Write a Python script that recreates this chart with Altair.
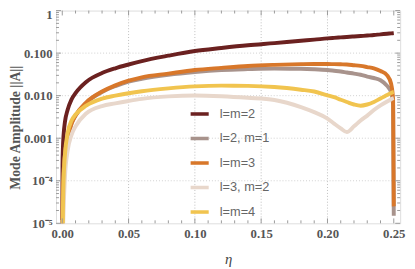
import math
import altair as alt
import pandas as pd

# ---------------- data ----------------
eta = [0.00001, 0.0002, 0.0005, 0.001, 0.002, 0.004, 0.007, 0.01, 0.018, 0.03,
       0.04, 0.05, 0.06, 0.08, 0.10, 0.12, 0.14, 0.16, 0.18, 0.19,
       0.20, 0.205, 0.21, 0.2146, 0.22, 0.225, 0.23, 0.235, 0.24, 0.245,
       0.248, 0.2495, 0.25]

a22 = [1.2e-5, 2.4e-4, 6e-4, 0.0012, 0.0024, 0.0046, 0.0082, 0.0115, 0.021, 0.034,
       0.044, 0.054, 0.065, 0.087, 0.112, 0.132, 0.153, 0.172, 0.195, 0.207,
       0.222, 0.228, 0.234, 0.240, 0.246, 0.252, 0.259, 0.266, 0.276, 0.285,
       0.291, 0.294, 0.295]

a21 = [1e-6, 2.5e-5, 5e-5, 1.5e-4, 4e-4, 0.001, 0.0022, 0.0034, 0.0068, 0.0122,
       0.0168, 0.0215, 0.025, 0.031, 0.036, 0.040, 0.042, 0.0432, 0.0428, 0.0418,
       0.040, 0.0385, 0.037, 0.035, 0.033, 0.031, 0.028, 0.026, 0.023, 0.017,
       0.012, 0.006, 1.5e-5]

a33 = [1e-6, 2.5e-5, 5e-5, 1.5e-4, 4e-4, 0.001, 0.0022, 0.0034, 0.0069, 0.0125,
       0.0175, 0.0225, 0.027, 0.033, 0.040, 0.045, 0.050, 0.053, 0.055, 0.0555,
       0.0555, 0.055, 0.0545, 0.054, 0.052, 0.050, 0.047, 0.044, 0.038, 0.030,
       0.019, 0.008, 2.5e-5]

a32 = [1e-6, 1e-6, 5e-6, 2e-5, 1.2e-4, 5e-4, 0.0012, 0.0019, 0.0038, 0.0057,
       0.0066, 0.0075, 0.0084, 0.0096, 0.0101, 0.0097, 0.0089, 0.0079, 0.0054, 0.0041,
       0.0029, 0.0022, 0.0017, 0.0014, 0.0019, 0.0026, 0.0034, 0.0046, 0.0059, 0.0073,
       0.0082, 0.0087, 0.0088]

a44 = [1e-6, 1e-6, 2e-5, 1e-4, 4e-4, 0.0013, 0.0026, 0.0036, 0.0058, 0.0085,
       0.0100, 0.0114, 0.0127, 0.0148, 0.0165, 0.0172, 0.0170, 0.0160, 0.0138, 0.0125,
       0.0102, 0.0092, 0.0080, 0.0071, 0.0062, 0.0058, 0.0062, 0.0071, 0.0086, 0.0103,
       0.0115, 0.0121, 0.0122]

modes = ["l=m=2", "l=2, m=1", "l=m=3", "l=3, m=2", "l=m=4"]
colors = ["#6b2120", "#a8938c", "#d8772a", "#e8d7cb", "#f1c44f"]

x_ticks = [0.0, 0.05, 0.10, 0.15, 0.20, 0.25]
x_grid = [0.05, 0.10, 0.15, 0.20]
y_ticks = [1e-5, 1e-4, 1e-3, 1e-2, 1e-1, 1.0]
y_labels = ["10⁻⁵", "10⁻⁴", "0.001", "0.010", "0.100", "1"]
y_grid = [1e-4, 1e-3, 1e-2, 1e-1]

# ---------------- tables ----------------
rows = []
for m, vals in zip(modes, [a22, a21, a33, a32, a44]):
    for i, (e, v) in enumerate(zip(eta, vals)):
        rows.append({"eta": e, "amp": v, "mode": m, "idx": i})
df = pd.DataFrame(rows)

x_minor = [round(i * 0.01, 2) for i in range(0, 26) if round(i * 0.01, 2) not in x_ticks]
y_minor = [k * 10.0 ** p for p in range(-5, 0) for k in range(2, 10)]

W, H = 351, 217
MAJ, MIN = 5, 3
FRAME = "#9a9a9a"
LABEL = "#555555"

xs = alt.Scale(domain=[-0.0047, 0.2548], nice=False, zero=False)
ys = alt.Scale(type="log", domain=[1e-5, 1], nice=False)

label_list = "[" + ",".join("'" + s + "'" for s in y_labels) + "]"
y_label_expr = label_list + "[round(log(datum.value)/LN10)+5]"

lines = alt.Chart(df).mark_line(strokeWidth=4, clip=True, interpolate="monotone").encode(
    x=alt.X("eta:Q", scale=xs,
            axis=alt.Axis(values=x_ticks, format=".2f", title="η", ticks=False, grid=False,
                          domain=False, labelFont="Liberation Serif", labelFontWeight="bold",
                          labelFontSize=13, labelColor=LABEL, labelPadding=4,
                          titleFont="Liberation Serif", titleFontStyle="italic",
                          titleFontWeight="normal", titleFontSize=15, titleColor="#444444",
                          titlePadding=12)),
    y=alt.Y("amp:Q", scale=ys,
            axis=alt.Axis(values=y_ticks, labelExpr=y_label_expr, title="Mode Amplitude ||A||",
                          ticks=False, grid=False, domain=False, labelFont="Liberation Serif",
                          labelFontWeight="bold", labelFontSize=13, labelColor=LABEL,
                          labelPadding=4,
                          labelOffset=alt.condition("datum.value >= 1", alt.value(4), alt.value(0)),
                          titleFont="Liberation Serif", titleFontWeight="bold",
                          titleFontSize=14, titleColor=LABEL, titleX=-41, titleY=119,
                          titleBaseline="middle")),
    color=alt.Color("mode:N", scale=alt.Scale(domain=modes, range=colors),
                    legend=alt.Legend(title=None, orient="none", legendX=135, legendY=94,
                                      symbolType="stroke", symbolSize=340, symbolStrokeWidth=3.6,
                                      labelFont="Liberation Sans", labelFontSize=13,
                                      labelColor="#666666", rowPadding=6, labelOffset=9,
                                      padding=0)),
    order="idx:Q",
)

gx = alt.Chart(pd.DataFrame({"g": x_grid})).mark_rule(color="#bdbdbd", strokeDash=[1, 2], strokeWidth=1).encode(
    x=alt.X("g:Q", scale=xs), y=alt.value(0), y2=alt.value(H))
gy = alt.Chart(pd.DataFrame({"g": y_grid})).mark_rule(color="#d0d0d0", strokeDash=[1, 2], strokeWidth=1).encode(
    y=alt.Y("g:Q", scale=ys), x=alt.value(0), x2=alt.value(W))


def xtick(vals, y0, y1):
    return alt.Chart(pd.DataFrame({"t": vals})).mark_rule(color=FRAME, strokeWidth=1).encode(
        x=alt.X("t:Q", scale=xs), y=alt.value(y0), y2=alt.value(y1))


def ytick(vals, x0, x1):
    return alt.Chart(pd.DataFrame({"t": vals})).mark_rule(color=FRAME, strokeWidth=1).encode(
        y=alt.Y("t:Q", scale=ys), x=alt.value(x0), x2=alt.value(x1))


ticks = [
    xtick(x_ticks, H, H - MAJ), xtick(x_minor, H, H - MIN),
    xtick(x_ticks, 0, MAJ), xtick(x_minor, 0, MIN),
    ytick(y_ticks, 0, MAJ), ytick(y_minor, 0, MIN),
    ytick(y_ticks, W, W - MAJ), ytick(y_minor, W, W - MIN),
]

chart = alt.layer(gx, gy, lines, *ticks).properties(
    width=W, height=H,
    padding={"left": 49, "top": 0, "right": 7, "bottom": 44},
    autosize=alt.AutoSizeParams(type="none"),
).configure_view(stroke=FRAME, strokeWidth=1).configure(background="white")

chart.save("out.html", embed_options={"renderer": "svg", "actions": False})
